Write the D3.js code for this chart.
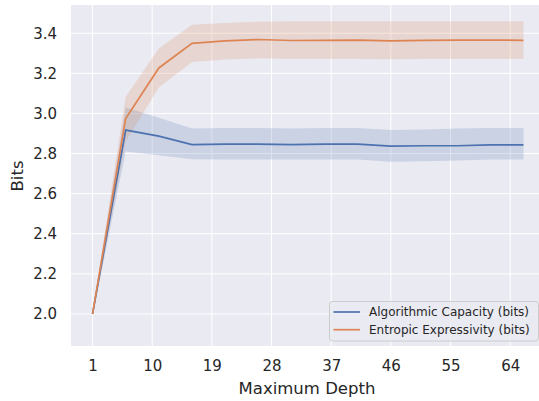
<!DOCTYPE html>
<html>
<head>
<meta charset="utf-8">
<script src="https://cdn.jsdelivr.net/npm/d3@7"></script>
<style>
  body { margin: 0; background: #fff; }
  text { font-family: "DejaVu Sans", sans-serif; fill: #262626; }
</style>
</head>
<body>
<svg id="chart" width="539" height="401"></svg>
<script>
// data
const depths = [1, 6, 11, 16, 21, 26, 31, 36, 41, 46, 51, 56, 61, 66];
const capacity = [2.0, 2.917, 2.887, 2.845, 2.847, 2.847, 2.845, 2.847, 2.847, 2.837, 2.839, 2.839, 2.843, 2.843];
const capacityLow = [1.99, 2.81, 2.792, 2.771, 2.77, 2.77, 2.77, 2.77, 2.77, 2.759, 2.762, 2.765, 2.77, 2.77];
const capacityHigh = [2.01, 3.03, 2.978, 2.925, 2.927, 2.927, 2.925, 2.927, 2.927, 2.917, 2.92, 2.925, 2.927, 2.927];
const entropic = [2.0, 2.975, 3.227, 3.35, 3.362, 3.369, 3.364, 3.365, 3.366, 3.362, 3.365, 3.366, 3.366, 3.365];
const entropicLow = [1.99, 2.86, 3.13, 3.257, 3.269, 3.275, 3.272, 3.272, 3.272, 3.27, 3.272, 3.272, 3.272, 3.272];
const entropicHigh = [2.01, 3.083, 3.324, 3.443, 3.451, 3.458, 3.46, 3.46, 3.46, 3.46, 3.46, 3.46, 3.46, 3.46];
const xTicks = [1, 10, 19, 28, 37, 46, 55, 64];
const yTicks = [2.0, 2.2, 2.4, 2.6, 2.8, 3.0, 3.2, 3.4];
const seriesNames = ["Algorithmic Capacity (bits)", "Entropic Expressivity (bits)"];
const colors = ["#4c72b0", "#dd8452"];

const svg = d3.select("#chart");
const margin = {top: 5, left: 71, right: 545, bottom: 346};

const x = d3.scaleLinear().domain([-2.25, 69.25]).range([margin.left, margin.right]);
const y = d3.scaleLinear().domain([1.84, 3.541]).range([margin.bottom, margin.top]);

// background
svg.append("rect")
  .attr("x", margin.left).attr("y", margin.top)
  .attr("width", margin.right - margin.left)
  .attr("height", margin.bottom - margin.top)
  .attr("fill", "#eaeaf2");

// grid
svg.append("g")
  .selectAll("line.gx")
  .data(xTicks)
  .join("line")
  .attr("x1", d => x(d)).attr("x2", d => x(d))
  .attr("y1", margin.top).attr("y2", margin.bottom)
  .attr("stroke", "#fff").attr("stroke-width", 1);
svg.append("g")
  .selectAll("line.gy")
  .data(yTicks)
  .join("line")
  .attr("x1", margin.left).attr("x2", margin.right)
  .attr("y1", d => y(d)).attr("y2", d => y(d))
  .attr("stroke", "#fff").attr("stroke-width", 1);

const series = [
  {mean: capacity, low: capacityLow, high: capacityHigh},
  {mean: entropic, low: entropicLow, high: entropicHigh}
];

// bands
series.forEach((s, k) => {
  const area = d3.area()
    .x((d, i) => x(depths[i]))
    .y0((d, i) => y(s.low[i]))
    .y1((d, i) => y(s.high[i]));
  svg.append("path")
    .attr("d", area(depths))
    .attr("fill", colors[k])
    .attr("fill-opacity", 0.2);
});

// lines
series.forEach((s, k) => {
  const line = d3.line()
    .x((d, i) => x(depths[i]))
    .y((d, i) => y(s.mean[i]));
  svg.append("path")
    .attr("d", line(depths))
    .attr("fill", "none")
    .attr("stroke", colors[k])
    .attr("stroke-width", 1.7);
});

// axes
const xAxis = svg.append("g")
  .attr("transform", "translate(0," + margin.bottom + ")")
  .call(d3.axisBottom(x).tickValues(xTicks).tickSize(0).tickPadding(14));
const yAxis = svg.append("g")
  .attr("transform", "translate(" + margin.left + ",0)")
  .call(d3.axisLeft(y).tickValues(yTicks).tickFormat(d3.format(".1f")).tickSize(0).tickPadding(14));
[xAxis, yAxis].forEach(a => {
  a.select(".domain").remove();
  a.selectAll("text").attr("font-size", 15).attr("fill", "#262626")
    .style("font-family", "DejaVu Sans");
});

// axis labels
svg.append("text")
  .attr("x", 307).attr("y", 394)
  .attr("text-anchor", "middle")
  .attr("font-size", 16.5)
  .text("Maximum Depth");
svg.append("text")
  .attr("transform", "translate(23,176) rotate(-90)")
  .attr("text-anchor", "middle")
  .attr("font-size", 16.5)
  .text("Bits");

// legend
const legend = svg.append("g");
legend.append("rect")
  .attr("x", 329.5).attr("y", 301.5)
  .attr("width", 209).attr("height", 39.5)
  .attr("rx", 3)
  .attr("fill", "#eaeaf2").attr("fill-opacity", 0.8)
  .attr("stroke", "#cccccc");
seriesNames.forEach((name, i) => {
  const ly = 312 + i * 17.7;
  legend.append("line")
    .attr("x1", 333.5).attr("x2", 360)
    .attr("y1", ly).attr("y2", ly)
    .attr("stroke", colors[i]).attr("stroke-width", 1.7);
  legend.append("text")
    .attr("x", 369).attr("y", ly + 4.3)
    .attr("font-size", 12)
    .text(name);
});
</script>
</body>
</html>
